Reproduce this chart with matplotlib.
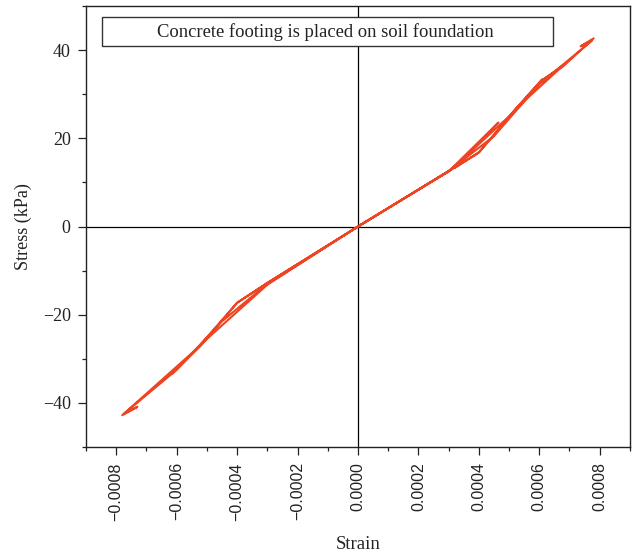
import matplotlib.pyplot as plt
from matplotlib.patches import Rectangle
from matplotlib.ticker import MultipleLocator, FuncFormatter

plt.rcParams['font.family'] = ['Liberation Serif', 'DejaVu Serif']

# 加卸載路徑 (應變 ×1e-4, 應力 kPa)
strain_e4 = [0, 3.0, 4.0, 5.2, 6.1, 5.0, 3.1, 0,
             -3.0, -4.0, -5.2, -6.15, -5.0, -3.0, 0,
             3.0, 4.65, 3.2, 4.0, 5.3, 6.8, 6.14, 6.8, 7.8, 7.37, 7.75,
             6.0, 4.5, 3.0, 0,
             -3.0, -4.0, -5.3, -7.8, -7.3, -7.75, -6.0, -4.5, -3.0, 0]
stress = [0, 12.5, 16.8, 26.5, 33.4, 25.0, 13.0, 0,
          -12.8, -17.3, -27.0, -33.4, -25.5, -13.2, 0,
          12.5, 23.6, 13.3, 16.8, 27.2, 36.6, 33.4, 36.4, 42.7, 40.9, 42.2,
          32.3, 20.5, 12.6, 0,
          -12.8, -17.3, -27.5, -42.8, -40.9, -42.5, -32.5, -21.5, -13.0, 0]
strain = [s * 1e-4 for s in strain_e4]

title_text = "Concrete footing is placed on soil foundation"

fig = plt.figure(figsize=(6.35, 5.58), dpi=100)
ax = fig.add_axes([0.1354, 0.199, 0.8566, 0.790])

ax.axhline(0, color='black', lw=0.9, zorder=1)
ax.axvline(0, color='black', lw=0.9, zorder=1)
ax.plot(strain, stress, color='#EE4422', lw=1.5, zorder=3)

ax.set_xlim(-0.0009, 0.0009)
ax.set_ylim(-50, 50)

ax.xaxis.set_major_locator(MultipleLocator(0.0002))
ax.xaxis.set_minor_locator(MultipleLocator(0.0001))
ax.yaxis.set_major_locator(MultipleLocator(20))
ax.yaxis.set_minor_locator(MultipleLocator(10))


def fmt_x(v, pos):
    if abs(v) < 1e-12:
        return '0.0000'
    return f'{v:.4f}'.replace('-', '\u2212')


def fmt_y(v, pos):
    if abs(v) < 1e-9:
        return '0'
    return f'{v:.0f}'.replace('-', '\u2212')


ax.xaxis.set_major_formatter(FuncFormatter(fmt_x))
ax.yaxis.set_major_formatter(FuncFormatter(fmt_y))
ax.tick_params(which='major', direction='out', length=6, width=0.9, pad=5, colors='#222222')
ax.tick_params(which='minor', direction='out', length=3, width=0.9, colors='#222222')
ax.tick_params(axis='y', labelsize=13)
for lab in ax.get_xticklabels():
    lab.set_rotation(90)
    lab.set_family(['Liberation Sans', 'DejaVu Sans'])
    lab.set_fontsize(11.5)

for sp in ax.spines.values():
    sp.set_linewidth(1.0)
    sp.set_color('#222222')

ax.set_xlabel('Strain', fontsize=13.5, labelpad=11, color='#222222')
ax.set_ylabel('Stress (kPa)', fontsize=13, labelpad=8, color='#222222')

# 標題框
ax.add_patch(Rectangle((0.0294, 0.909), 0.829, 0.066, transform=ax.transAxes,
                       fill=True, facecolor='white', edgecolor='#333333', lw=1.0, zorder=4))
ax.text(0.441, 0.942, title_text, transform=ax.transAxes, ha='center', va='center',
        fontsize=13.4, color='#222222', zorder=5)

fig.savefig('out.png', dpi=100)
